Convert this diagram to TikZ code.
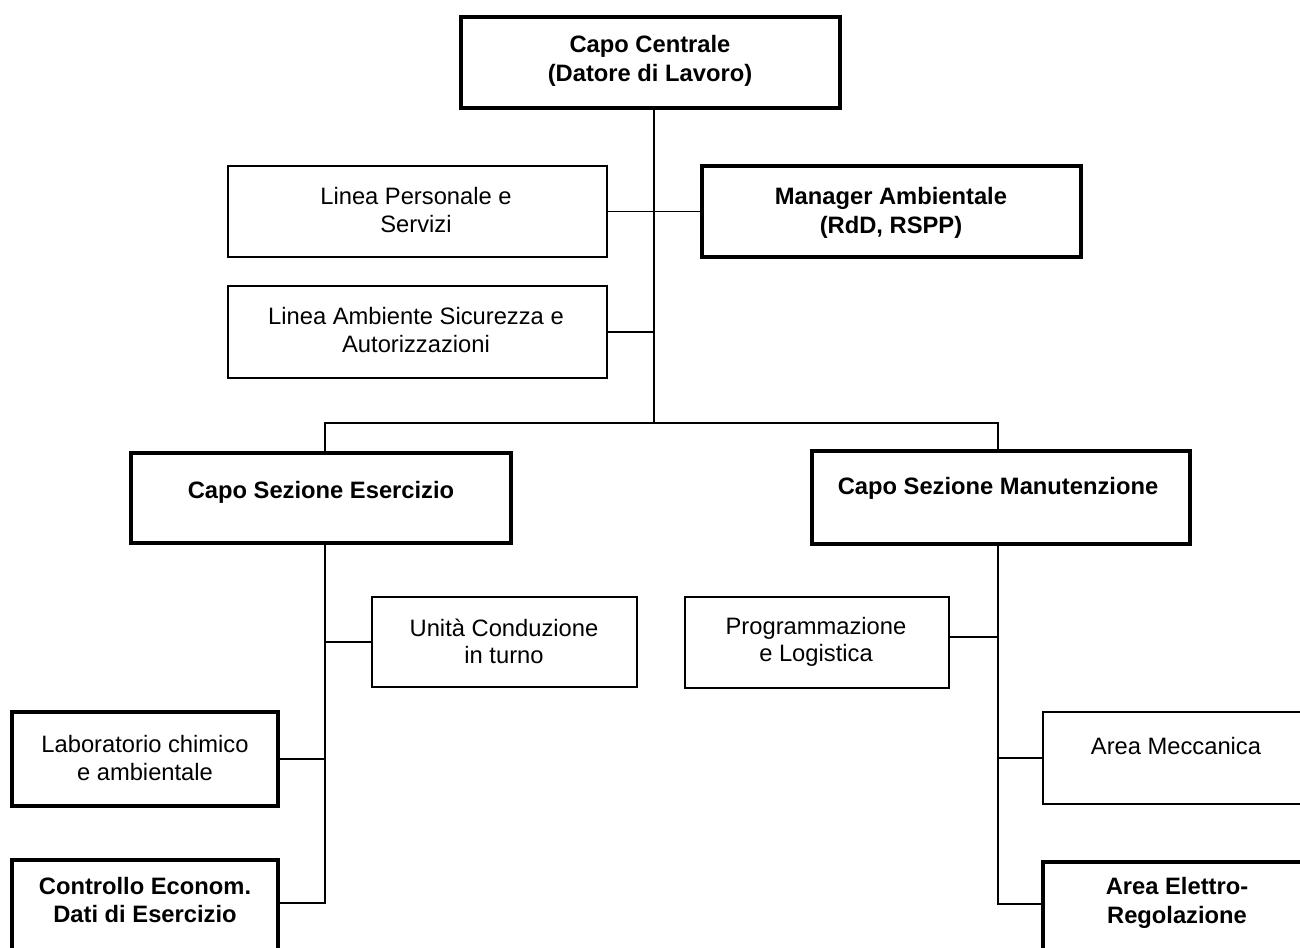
\documentclass[tikz,border=0pt]{standalone}
\usepackage{fontspec}
\setmainfont{Liberation Sans}
\usetikzlibrary{fit,calc}
\tikzset{
  thinbox/.style={draw=black, line width=1pt, inner sep=0pt, fill=white},
  thickbox/.style={draw=black, line width=3pt, inner sep=0pt, fill=white},
  lbl/.style={align=center, inner sep=0pt, font=\fontsize{17.8}{20.4}\selectfont},
  lblb/.style={lbl, font=\fontsize{17.8}{21.6}\selectfont\bfseries},
  conn/.style={draw=black, line width=0.95pt}
}
\begin{document}
\begin{tikzpicture}[x=0.75pt,y=-0.75pt]
\clip (0,0) rectangle (1300,947);
\fill[white] (0,0) rectangle (1300,947);
% boxes
\node[thickbox, fit={(461,17)(840,108)}] (cc) {};
\node[thinbox, fit={(228,166)(607,257)}] (lp) {};
\node[thickbox, fit={(702,166)(1081,257)}] (ma) {};
\node[thinbox, fit={(228,286)(607,378)}] (la) {};
\node[thickbox, fit={(131,453)(511,543)}] (cse) {};
\node[thickbox, fit={(812,451)(1190,544)}] (csm) {};
\node[thinbox, fit={(372,597)(637,687)}] (uc) {};
\node[thinbox, fit={(685,597)(949,688)}] (pl) {};
\node[thickbox, fit={(12,712)(278,806)}] (lab) {};
\node[thickbox, fit={(12,860)(278,960)}] (ce) {};
\node[thinbox, fit={(1043,712)(1330,804)}] (am) {};
\node[thickbox, fit={(1043,862)(1330,960)}] (ae) {};
% labels
\node[lblb] (tcc) at (650,61) {Capo Centrale\\(Datore di Lavoro)};
\node[lbl] (tlp) at (416,210) {Linea Personale e\\Servizi};
\node[lblb] (tma) at (891,213) {Manager Ambientale\\(RdD, RSPP)};
\node[lbl] (tla) at (416,330) {Linea Ambiente Sicurezza e\\Autorizzazioni};
\node[lblb] (tcse) at (321,492) {Capo Sezione Esercizio};
\node[lblb] (tcsm) at (998,488) {Capo Sezione Manutenzione};
\node[lbl] (tuc) at (504,641) {Unità Conduzione\\in turno};
\node[lbl] (tpl) at (816,642) {Programmazione\\e Logistica};
\node[lbl] (tlab) at (145,758) {Laboratorio chimico\\e ambientale};
\node[lblb] (tce) at (145,900) {Controllo Econom.\\Dati di Esercizio};
\node[lbl] (tam) at (1176,746) {Area Meccanica};
\node[lblb] (tae) at (1177,903) {Area Elettro-\\Regolazione};
% junction coordinates
\coordinate (t1) at (654,423);
\coordinate (b1) at (325,423);
\coordinate (b2) at (998,423);
\coordinate (e1) at (325,903);
\coordinate (m1) at (998,904);
% connectors
\draw[conn] (cc.south -| t1) -- (t1);
\draw[conn] (lp.east) -- (ma.west);
\draw[conn] (la.east) -- (la.east -| t1);
\draw[conn] (cse.north -| b1) -- (b1) -- (b2) -- (csm.north -| b2);
\draw[conn] (cse.south -| e1) -- (e1) -- (e1 -| ce.east);
\draw[conn] (lab.east) -- (lab.east -| e1);
\draw[conn] (uc.west) -- (uc.west -| e1);
\draw[conn] (csm.south -| m1) -- (m1) -- (m1 -| ae.west);
\draw[conn] ($(pl.north east)!0.44!(pl.south east)$) coordinate (pe) -- (pe -| m1);
\draw[conn] (am.west) -- (am.west -| m1);
\end{tikzpicture}
\end{document}
